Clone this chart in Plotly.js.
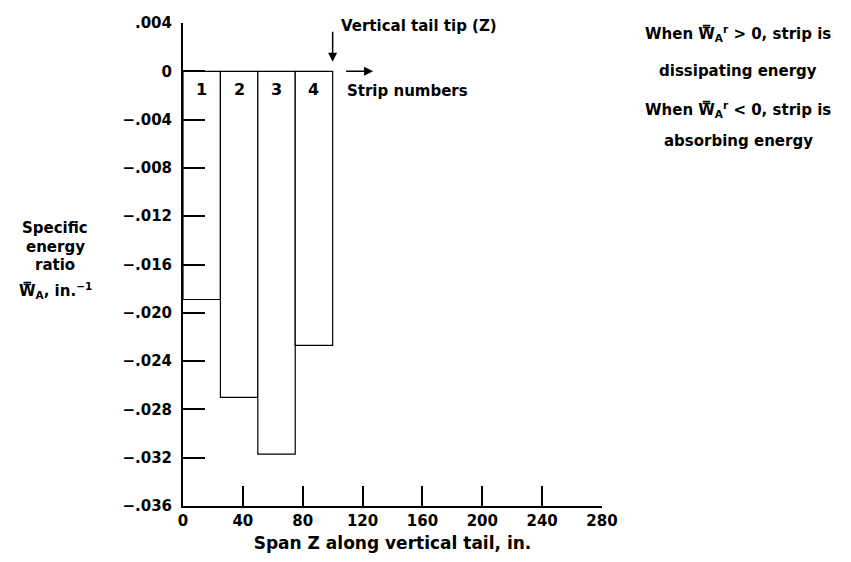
<!DOCTYPE html>
<html>
<head>
<meta charset="utf-8">
<script src="https://cdn.plot.ly/plotly-3.0.1.min.js"></script>
<style>html,body{margin:0;padding:0;background:#fff;}#chart{width:851px;height:562px;}</style>
</head>
<body>
<div id="chart"></div>
<script>
// Data
const stripNumbers = ["1", "2", "3", "4"];
const stripCenters = [12.5, 37.5, 62.5, 87.5];
const stripWidth = 25;
const energyRatio = [-0.0189, -0.0270, -0.0317, -0.0227];
const yTickVals = [0.004, 0, -0.004, -0.008, -0.012, -0.016, -0.020, -0.024, -0.028, -0.032, -0.036];
const yTickText = [".004", "0", "\u2212.004", "\u2212.008", "\u2212.012", "\u2212.016", "\u2212.020", "\u2212.024", "\u2212.028", "\u2212.032", "\u2212.036"];
const xTickVals = [0, 40, 80, 120, 160, 200, 240, 280];

const FONT = "DejaVu Sans, Liberation Sans, Arial, sans-serif";
const bfont = (s) => ({family: FONT, size: s, color: "#000", weight: "bold"});

const trace = {
  type: "bar",
  x: stripCenters,
  y: energyRatio,
  width: stripWidth,
  marker: {color: "#fff", line: {color: "#000", width: 1.2}},
  hoverinfo: "skip"
};

const annotations = [];
stripNumbers.forEach((s, i) => {
  annotations.push({x: stripCenters[i], y: -0.0015, xref: "x", yref: "y", xanchor: "center", text: s, showarrow: false, font: bfont(16)});
});
annotations.push(
  {x: 100, y: 0.0008, ax: 100, ay: 0.0034, xref: "x", yref: "y", axref: "x", ayref: "y", text: "", showarrow: true, arrowhead: 2, arrowsize: 1.2, arrowwidth: 1.5, arrowcolor: "#000"},
  {x: 104.5, y: 0.00372, xref: "x", yref: "y", xanchor: "left", text: "Vertical tail tip (Z)", showarrow: false, font: bfont(15)},
  {x: 127, y: 0, ax: 108, ay: 0, xref: "x", yref: "y", axref: "x", ayref: "y", text: "", showarrow: true, arrowhead: 2, arrowsize: 1.2, arrowwidth: 1.5, arrowcolor: "#000"},
  {x: 108.5, y: -0.00165, xref: "x", yref: "y", xanchor: "left", text: "Strip numbers", showarrow: false, font: bfont(15)},
  {x: -0.305, y: 0.576, xref: "paper", yref: "paper", xanchor: "center", text: "Specific", showarrow: false, font: bfont(15)},
  {x: -0.305, y: 0.537, xref: "paper", yref: "paper", xanchor: "center", text: "energy", showarrow: false, font: bfont(15)},
  {x: -0.305, y: 0.498, xref: "paper", yref: "paper", xanchor: "center", text: "ratio", showarrow: false, font: bfont(15)},
  {x: -0.305, y: 0.447, xref: "paper", yref: "paper", xanchor: "center", text: "W\u033F<sub>A</sub>, in.<sup>\u22121</sup>", showarrow: false, font: bfont(15)},
  {x: 1.325, y: 1.005, xref: "paper", yref: "paper", xanchor: "center", text: "When W\u033F<sub>A</sub><sup>r</sup> > 0, strip is", showarrow: false, font: bfont(15)},
  {x: 1.325, y: 0.924, xref: "paper", yref: "paper", xanchor: "center", text: "dissipating energy", showarrow: false, font: bfont(15)},
  {x: 1.325, y: 0.847, xref: "paper", yref: "paper", xanchor: "center", text: "When W\u033F<sub>A</sub><sup>r</sup> < 0, strip is", showarrow: false, font: bfont(15)},
  {x: 1.325, y: 0.779, xref: "paper", yref: "paper", xanchor: "center", text: "absorbing energy", showarrow: false, font: bfont(15)}
);

const layout = {
  width: 851, height: 562,
  margin: {l: 183, r: 249, t: 23, b: 56, pad: 0},
  paper_bgcolor: "#fff", plot_bgcolor: "#fff",
  showlegend: false,
  font: {family: FONT, color: "#000"},
  xaxis: {
    range: [0, 280], showgrid: false, zeroline: false,
    showline: true, linecolor: "#000", linewidth: 2,
    ticks: "inside", ticklen: 20, tickwidth: 2, tickcolor: "#000",
    tickvals: xTickVals, tickfont: bfont(15),
    title: {text: "Span Z along vertical tail, in.", font: bfont(17), standoff: 8}
  },
  yaxis: {
    range: [-0.036, 0.004], showgrid: false, zeroline: false,
    showline: true, linecolor: "#000", linewidth: 2,
    ticks: "inside", ticklen: 22, tickwidth: 2, tickcolor: "#000",
    ticklabelstandoff: 6,
    tickvals: yTickVals, ticktext: yTickText, tickfont: bfont(15)
  },
  annotations: annotations
};

Plotly.newPlot("chart", [trace], layout, {staticPlot: true, displayModeBar: false});
</script>
</body>
</html>
